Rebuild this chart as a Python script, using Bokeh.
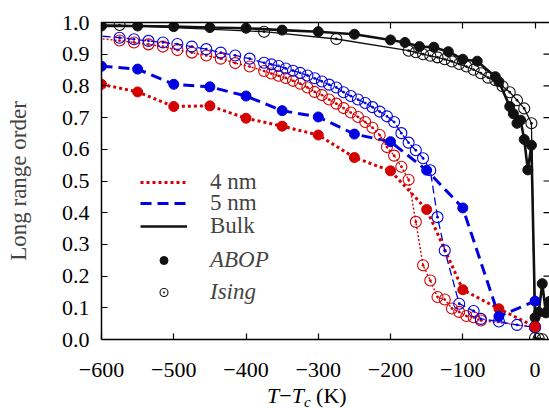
from bokeh.plotting import figure
from bokeh.models import LinearAxis, Legend, LegendItem, FixedTicker, Range1d, Div
from bokeh.layouts import column
from bokeh.embed import file_html
from bokeh.resources import INLINE

# ---------------- data ----------------
t_abop = [-600, -550, -500, -450, -400, -350, -300, -250, -200, -150, -100, -50, 0]
abop_4nm = [0.805, 0.781, 0.735, 0.737, 0.698, 0.673, 0.645, 0.574, 0.532, 0.410, 0.157, 0.097, 0.040]
abop_5nm = [0.862, 0.853, 0.805, 0.797, 0.768, 0.722, 0.702, 0.648, 0.624, 0.534, 0.415, 0.073, 0.121]

t_ising_4nm = [-615, -575, -555, -535, -515, -495, -475, -455, -435, -415, -395, -375, -365, -355,
               -345, -335, -325, -315, -305, -295, -285, -275, -265, -255, -245, -235, -225, -215,
               -205, -195, -185, -175, -165, -155, -145, -135, -125, -115, -105, -95, -85, -75, 0]
ising_4nm = [0.952, 0.943, 0.937, 0.931, 0.924, 0.913, 0.905, 0.896, 0.886, 0.872, 0.861, 0.847, 0.839, 0.832,
             0.825, 0.816, 0.807, 0.795, 0.781, 0.771, 0.757, 0.744, 0.730, 0.716, 0.702, 0.686, 0.668, 0.645,
             0.607, 0.580, 0.545, 0.504, 0.371, 0.234, 0.186, 0.134, 0.126, 0.098, 0.087, 0.074, 0.070, 0.060, 0.039]

t_ising_5nm = [-615, -575, -555, -535, -515, -495, -475, -455, -435, -415, -395, -375, -365, -355,
               -345, -335, -325, -315, -305, -295, -285, -275, -265, -255, -245, -235, -225, -215,
               -205, -195, -185, -175, -165, -155, -145, -135, -125, -105, -85, -75, -50, -25, 0]
ising_5nm = [0.960, 0.952, 0.947, 0.942, 0.937, 0.932, 0.924, 0.916, 0.905, 0.896, 0.886, 0.873, 0.868, 0.863,
             0.855, 0.848, 0.841, 0.833, 0.824, 0.814, 0.804, 0.795, 0.780, 0.768, 0.757, 0.746, 0.733, 0.719,
             0.704, 0.686, 0.651, 0.621, 0.597, 0.572, 0.534, 0.386, 0.281, 0.113, 0.090, 0.065, 0.057, 0.046, 0.039]

t_bulk_abop = [-600, -550, -500, -450, -400, -350, -300, -250, -200, -180, -160, -140, -120, -100, -80,
               -55, -50, -35, -30, -25, -20, -15, -10, -5, 0, 5, 10, 15, 20]
bulk_abop = [0.989, 0.989, 0.987, 0.984, 0.982, 0.976, 0.971, 0.963, 0.945, 0.937, 0.924, 0.922, 0.908, 0.884, 0.878,
             0.829, 0.813, 0.735, 0.712, 0.682, 0.692, 0.631, 0.535, 0.613, 0.069, 0.086, 0.176, 0.084, 0.120]

t_bulk_ising = [-615, -575, -375, -275, -175, -165, -155, -145, -135, -125, -115, -105, -95, -85, -75,
                -65, -55, -45, -35, -25, -15, -5, 0, 5, 10]
bulk_ising = [0.993, 0.992, 0.971, 0.948, 0.911, 0.906, 0.900, 0.895, 0.890, 0.884, 0.877, 0.869, 0.861, 0.851, 0.840,
              0.826, 0.818, 0.799, 0.780, 0.755, 0.729, 0.682, 0.005, 0.003, 0.001]

x_min, x_max = -600, 20
x_ticks = [-600, -500, -400, -300, -200, -100, 0]
x_tick_labels = ["\u2212600", "\u2212500", "\u2212400", "\u2212300", "\u2212200", "\u2212100", "0"]
y_ticks = [0.0, 0.1, 0.2, 0.3, 0.4, 0.5, 0.6, 0.7, 0.8, 0.9, 1.0]
y_tick_labels = ["0.0", "0.1", "0.2", "0.3", "0.4", "0.5", "0.6", "0.7", "0.8", "0.9", "1.0"]

RED = "#d40000"
BLUE = "#0000e0"
BLACK = "#111111"
FONT = "Liberation Serif"

p = figure(width=549, height=389, x_range=Range1d(x_min, x_max), y_range=Range1d(0, 1.0),
           output_backend="svg", toolbar_location=None,
           min_border_left=101, min_border_right=0, min_border_top=22, min_border_bottom=50)
p.outline_line_color = None
p.grid.visible = False
p.background_fill_color = "white"
p.border_fill_color = "white"

def style_axis(ax, ticks, labels, show_labels=True, standoff=12):
    ax.ticker = FixedTicker(ticks=ticks)
    ax.major_label_overrides = {t: l for t, l in zip(ticks, labels)}
    ax.major_tick_in = 6
    ax.major_tick_out = 0
    ax.minor_tick_in = 0
    ax.minor_tick_out = 0
    ax.major_tick_line_width = 1.2
    ax.major_tick_line_color = "black"
    ax.axis_line_width = 1.5
    ax.axis_line_color = "black"
    ax.major_label_text_font = FONT
    ax.major_label_text_color = "black"
    if show_labels:
        ax.major_label_text_font_size = "22px"
        ax.major_label_standoff = standoff
    else:
        ax.major_label_text_font_size = "0px"
        ax.major_label_standoff = 0

style_axis(p.xaxis[0], x_ticks, x_tick_labels, standoff=23)
style_axis(p.yaxis[0], y_ticks, y_tick_labels, standoff=12)
p.yaxis[0].axis_label = "Long range order"
p.yaxis[0].axis_label_text_font = FONT
p.yaxis[0].axis_label_text_font_size = "23px"
p.yaxis[0].axis_label_text_font_style = "normal"
p.yaxis[0].axis_label_standoff = 28

top_ax = LinearAxis()
style_axis(top_ax, x_ticks, ["" for _ in x_ticks], show_labels=False)
p.add_layout(top_ax, "above")

# inward tick marks on the (cut) right edge of the frame
p.scatter([x_max] * len(y_ticks), y_ticks, marker="dash", size=12, line_color="black", line_width=1.2)

# ---------------- lines ----------------
l_bi = p.line(t_bulk_ising, bulk_ising, color=BLACK, line_width=1.3)
l_ba = p.line(t_bulk_abop, bulk_abop, color=BLACK, line_width=2.6)
l_4i = p.line(t_ising_4nm, ising_4nm, color=RED, line_width=1.4, line_dash="2 2")
l_5i = p.line(t_ising_5nm, ising_5nm, color=BLUE, line_width=1.3, line_dash="8 4")
l_4a = p.line(t_abop, abop_4nm, color=RED, line_width=3, line_dash="3 3")
l_5a = p.line(t_abop, abop_5nm, color=BLUE, line_width=3, line_dash="11 6")

# ---------------- markers ----------------
s_bi = p.scatter(t_bulk_ising, bulk_ising, marker="circle_dot", size=11, line_color=BLACK,
                 fill_color=None, line_width=1.1)
s_4i = p.scatter(t_ising_4nm, ising_4nm, marker="circle_dot", size=11, line_color=RED,
                 fill_color=None, line_width=1.1)
s_5i = p.scatter(t_ising_5nm, ising_5nm, marker="circle_dot", size=11, line_color=BLUE,
                 fill_color=None, line_width=1.1)
s_ba = p.scatter(t_bulk_abop, bulk_abop, marker="circle", size=10, color=BLACK)
s_4a = p.scatter(t_abop, abop_4nm, marker="circle", size=10, color=RED)
s_5a = p.scatter(t_abop, abop_5nm, marker="circle", size=10, color=BLUE)

# ---------------- legends (one box per entry for free spacing) ----------------
def make_legend(label, renderer, loc_y, style):
    lg = Legend(items=[LegendItem(label=label, renderers=[renderer])], location=(39, loc_y),
                orientation="vertical", glyph_width=47, glyph_height=20, label_height=20,
                spacing=0, padding=0, margin=0, border_line_color=None, background_fill_alpha=0,
                label_text_font=FONT, label_text_font_size="23px", label_text_font_style=style,
                label_standoff=23)
    p.add_layout(lg)

make_legend("4 nm", l_4a, 144, "normal")
make_legend("5 nm", l_5a, 123, "normal")
make_legend("Bulk", l_ba, 100, "normal")
make_legend("ABOP", s_ba, 66, "italic")
make_legend("Ising", s_bi, 34, "italic")

# ---------------- x-axis title: T - T_c (K) ----------------
xtitle = Div(text='<i>T</i>&#8722;<i>T</i><sub style="font-size:15px;vertical-align:-4px;line-height:8px;"><i>c</i></sub> (K)',
             width=549, height=19, margin=0,
             styles={"font-family": FONT, "font-size": "22px", "line-height": "12px",
                     "padding-left": "267px", "padding-top": "1px", "overflow": "visible",
                     "color": "black", "white-space": "nowrap"})

layout = column(p, xtitle, spacing=0)
open("out.html", "w").write(file_html(layout, INLINE))
